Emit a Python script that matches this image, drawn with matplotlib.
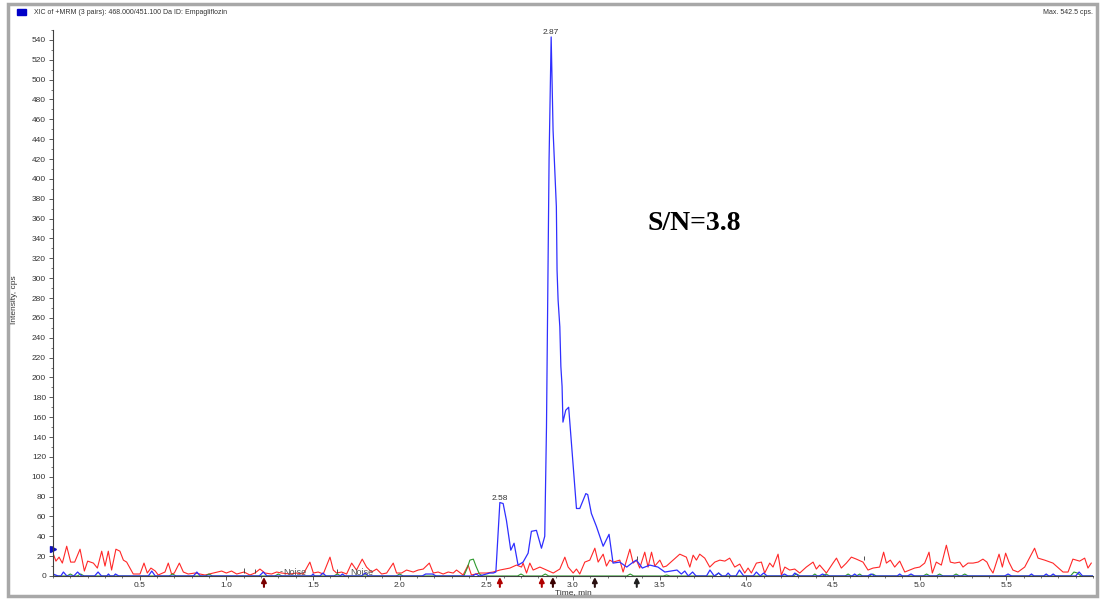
import matplotlib
matplotlib.use("Agg")
from matplotlib import pyplot as plt
from matplotlib.ticker import MultipleLocator
from matplotlib.patches import Rectangle

# red trace (time in min, intensity in cps)
red_time = [0.0, 0.017, 0.035, 0.054, 0.079, 0.102, 0.125, 0.156, 0.181, 0.2, 0.233, 0.256, 0.281, 0.3,
            0.319, 0.338, 0.363, 0.386, 0.406, 0.425, 0.463, 0.502, 0.525, 0.544, 0.565, 0.59, 0.607, 0.646,
            0.665, 0.684, 0.7, 0.729, 0.752, 0.78, 0.819, 0.848, 0.877, 0.925, 0.973, 1.0, 1.03, 1.06,
            1.102, 1.136, 1.165, 1.194, 1.223, 1.261, 1.29, 1.319, 1.367, 1.405, 1.444, 1.482, 1.502, 1.53,
            1.559, 1.598, 1.617, 1.636, 1.665, 1.694, 1.723, 1.751, 1.784, 1.809, 1.838, 1.867, 1.896, 1.925,
            1.963, 1.982, 2.011, 2.04, 2.078, 2.107, 2.136, 2.171, 2.194, 2.222, 2.251, 2.28, 2.309, 2.328,
            2.366, 2.395, 2.414, 2.463, 2.501, 2.539, 2.578, 2.636, 2.674, 2.703, 2.712, 2.732, 2.751, 2.77,
            2.809, 2.847, 2.886, 2.924, 2.953, 2.972, 3.001, 3.02, 3.039, 3.068, 3.097, 3.126, 3.145, 3.174,
            3.193, 3.212, 3.232, 3.27, 3.289, 3.328, 3.347, 3.366, 3.385, 3.414, 3.433, 3.453, 3.472, 3.501,
            3.52, 3.539, 3.616, 3.654, 3.674, 3.693, 3.712, 3.731, 3.76, 3.789, 3.818, 3.847, 3.876, 3.904,
            3.933, 3.962, 3.991, 4.01, 4.029, 4.058, 4.087, 4.106, 4.135, 4.154, 4.183, 4.202, 4.222, 4.25,
            4.279, 4.308, 4.346, 4.385, 4.404, 4.423, 4.462, 4.5, 4.52, 4.548, 4.577, 4.606, 4.635, 4.673,
            4.702, 4.731, 4.769, 4.792, 4.808, 4.831, 4.856, 4.885, 4.914, 4.942, 4.971, 5.0, 5.029, 5.054,
            5.073, 5.096, 5.125, 5.154, 5.177, 5.202, 5.231, 5.25, 5.279, 5.308, 5.337, 5.365, 5.388, 5.404,
            5.423, 5.458, 5.477, 5.496, 5.515, 5.538, 5.567, 5.606, 5.663, 5.683, 5.721, 5.769, 5.827, 5.856,
            5.884, 5.923, 5.952, 5.971, 5.99]
red_int = [23, 15, 19, 13, 30, 14, 14, 27, 5, 15, 13, 8, 25, 10,
           25, 6, 27, 25, 16, 14, 2, 2, 13, 3, 8, 5, 1, 4,
           13, 2, 3, 13, 4, 2, 3, 2, 1, 3, 5, 3, 5, 2,
           4, 1, 3, 7, 3, 2, 4, 3, 2, 3, 2, 14, 3, 4,
           2, 19, 6, 3, 4, 2, 13, 6, 17, 9, 4, 7, 2, 3,
           13, 3, 3, 6, 4, 6, 7, 13, 3, 4, 2, 4, 3, 6,
           1, 11, 1, 3, 3, 4, 6, 8, 11, 9, 13, 3, 13, 6,
           9, 6, 3, 7, 19, 9, 3, 7, 2, 14, 16, 28, 14, 22,
           10, 16, 14, 16, 4, 27, 13, 16, 8, 24, 9, 24, 10, 16,
           9, 10, 22, 19, 9, 21, 16, 22, 18, 9, 14, 16, 15, 18,
           9, 12, 3, 8, 3, 13, 14, 3, 13, 9, 22, 1, 9, 6,
           7, 3, 9, 14, 7, 11, 3, 13, 18, 8, 13, 19, 17, 14,
           6, 8, 9, 24, 13, 16, 9, 15, 4, 6, 8, 9, 13, 24,
           3, 14, 11, 31, 14, 13, 14, 9, 13, 13, 14, 17, 14, 8,
           3, 22, 9, 23, 14, 6, 4, 9, 28, 18, 16, 13, 4, 4,
           17, 15, 18, 8, 13]

# green trace
green_time = [0.0, 0.08, 0.1, 0.12, 0.14, 0.16, 0.18, 0.67, 0.69, 0.71, 0.88, 0.9, 0.92, 1.28, 1.3, 1.32,
              1.62, 1.64, 1.66, 1.98, 2.0, 2.02, 2.37, 2.39, 2.405, 2.425, 2.44, 2.46, 2.48, 2.68, 2.7,
              2.72, 2.82, 2.84, 2.86, 3.31, 3.33, 3.35, 3.52, 3.54, 3.56, 3.82, 3.84, 3.86, 4.27, 4.29,
              4.31, 4.38, 4.395, 4.41, 4.44, 4.46, 4.48, 4.57, 4.587, 4.605, 4.635, 4.654, 4.67, 4.71,
              4.73, 4.75, 5.02, 5.04, 5.06, 5.095, 5.115, 5.135, 5.19, 5.21, 5.23, 5.24, 5.26, 5.28,
              5.87, 5.89, 5.91, 5.93, 6.0]
green_int = [0, 0, 2, 0, 0, 2, 0, 0, 2, 0, 0, 2, 0, 0, 2, 0,
             0, 2, 0, 0, 2, 0, 0, 8, 16, 17, 10, 2, 0, 0, 2,
             0, 0, 2, 0, 0, 2, 0, 0, 1, 0, 0, 3, 0, 0, 2,
             0, 0, 2, 0, 0, 2, 0, 0, 2, 0, 0, 2, 0, 0,
             2, 0, 0, 2, 0, 0, 2, 0, 0, 2, 0, 0, 2, 0,
             0, 4, 3, 0, 0]

# blue trace (Empagliflozin)
blue_time = [0.0, 0.03, 0.045, 0.06, 0.08, 0.12, 0.142, 0.165, 0.24, 0.26, 0.28, 0.31, 0.32, 0.33, 0.35,
             0.36, 0.38, 0.55, 0.57, 0.59, 0.81, 0.83, 0.85, 1.19, 1.213, 1.235, 1.49, 1.5, 1.51, 1.54,
             1.557, 1.575, 1.655, 1.67, 1.685, 1.78, 1.8, 1.82, 2.13, 2.15, 2.19, 2.21, 2.42, 2.44, 2.46,
             2.5, 2.52, 2.54, 2.555, 2.578, 2.597, 2.616, 2.641, 2.66, 2.683, 2.712, 2.741, 2.76, 2.789,
             2.818, 2.837, 2.847, 2.855, 2.862, 2.874, 2.885, 2.895, 2.904, 2.908, 2.914, 2.924, 2.93,
             2.937, 2.942, 2.958, 2.975, 3.02, 3.039, 3.074, 3.085, 3.106, 3.135, 3.174, 3.208, 3.231,
             3.27, 3.31, 3.347, 3.366, 3.4, 3.443, 3.49, 3.53, 3.6, 3.625, 3.645, 3.665, 3.69, 3.71,
             3.77, 3.79, 3.815, 3.84, 3.86, 3.88, 3.895, 3.91, 3.94, 3.96, 3.985, 4.04, 4.058, 4.08,
             4.1, 4.12, 4.2, 4.22, 4.24, 4.265, 4.28, 4.3, 4.42, 4.44, 4.46, 4.61, 4.625, 4.64, 4.7,
             4.72, 4.74, 4.87, 4.885, 4.9, 4.93, 4.95, 4.97, 5.49, 5.51, 5.53, 5.63, 5.645, 5.66, 5.715,
             5.73, 5.745, 5.755, 5.77, 5.785, 5.9, 5.92, 5.94, 6.0]
blue_int = [2, 0, 0, 4, 0, 0, 4, 0, 0, 4, 0, 0, 2, 0, 0,
            2, 0, 0, 5, 0, 0, 4, 0, 0, 4, 0, 0, 2, 0, 0,
            3, 0, 0, 2, 0, 0, 3, 0, 0, 2, 2, 0, 0, 2, 0,
            2, 3, 3, 4, 74, 73, 56, 26, 33, 11, 14, 23, 45, 46,
            28, 40, 150, 290, 420, 543, 449, 409, 372, 308, 278, 251, 211,
            191, 155, 167, 170, 68, 68, 83, 82, 63, 50, 30, 42, 13,
            14, 9, 14, 16, 8, 11, 9, 4, 6, 2, 5, 0, 4, 0,
            0, 6, 0, 3, 0, 0, 3, 0, 0, 6, 0, 0, 4, 0,
            3, 0, 0, 2, 0, 0, 3, 0, 0, 2, 0, 0, 2, 0, 0,
            2, 0, 0, 2, 0, 0, 2, 0, 0, 2, 0, 0, 2, 0, 0,
            2, 0, 0, 2, 0, 0, 4, 0, 0]

# peak apex labels
peak_times = [2.874, 2.578]
peak_heights = [543, 74]
peak_labels = ["2.87", "2.58"]

# integration arrows below the time axis
arrow_times = [1.217, 2.578, 2.82, 2.884, 3.126, 3.368]
arrow_colors = ["#7a0000", "#b00000", "#b00000", "#3a0000", "#2a1010", "#202020"]

# noise region annotations
noise_times = [1.396, 1.784]
mark_times = [1.102, 1.165, 1.64, 3.372, 4.679]
mark_low = [3, 3, 3, 16, 16]
mark_high = [8, 7, 7, 20, 20]

W, H = 1103, 600
fig = plt.figure(figsize=(W / 100, H / 100), dpi=100)
plt.rcParams['font.family'] = ['Liberation Sans', 'DejaVu Sans']

# window frame
fig.patches.append(Rectangle((8 / W, 4 / H), 1089 / W, 592 / H, transform=fig.transFigure,
                             fill=False, edgecolor="#a8a8a8", lw=2.5))

ax = fig.add_axes([53 / W, 1 - 576 / H, 1040 / W, 546 / H])
ax.plot(red_time, red_int, color="#ff2828", lw=0.8)
ax.plot(green_time, green_int, color="#2f9a2f", lw=0.8)
ax.plot(blue_time, blue_int, color="#2f2fff", lw=0.9)
ax.plot([0], [27], marker=">", color="#1010c0", ms=4, clip_on=False)

ax.set_xlim(0, 6.0)
ax.set_ylim(0, 550)
ax.xaxis.set_minor_locator(MultipleLocator(0.1))
ax.yaxis.set_minor_locator(MultipleLocator(10))
ax.set_xticks([0.5, 1.0, 1.5, 2.0, 2.5, 3.0, 3.5, 4.0, 4.5, 5.0, 5.5])
ax.set_yticks(range(0, 541, 20))
ax.tick_params(which="major", length=3, width=0.6, labelsize=6, labelcolor="#333333", color="#404040", pad=2)
ax.tick_params(axis="x", which="major", pad=1)
ax.tick_params(which="minor", length=1.5, width=0.5, color="#404040")
for s in ["top", "right"]:
    ax.spines[s].set_visible(False)
for s in ["left", "bottom"]:
    ax.spines[s].set_color("#404040")
    ax.spines[s].set_linewidth(0.8)

fig.text(573 / W, 1 - 592.5 / H, "Time, min", fontsize=6, color="#333333", ha="center", va="center")
fig.text(14 / W, 1 - 300 / H, "Intensity, cps", rotation=90, fontsize=6, color="#333333",
         ha="center", va="center")

for t, h, lab in zip(peak_times, peak_heights, peak_labels):
    ax.annotate(lab, (t, h), xytext=(0, 0.5), textcoords="offset points", ha="center", va="bottom",
                fontsize=6, color="#333333", annotation_clip=False)

for t, c in zip(arrow_times, arrow_colors):
    ax.annotate("", xy=(t, -1), xytext=(t, -11), annotation_clip=False,
                arrowprops=dict(arrowstyle="-|>", color=c, lw=1.5, mutation_scale=7,
                                shrinkA=0, shrinkB=0))

for t in noise_times:
    ax.text(t, 4, "Noise", fontsize=6.5, color="#555555", ha="center", va="center")
ax.text(1.318, 4, "-", fontsize=6.5, color="#555555", ha="center", va="center")
ax.vlines(mark_times, mark_low, mark_high, color="#333333", lw=0.6)

ax.text(3.7, 355, "S/N=3.8", fontsize=20, fontweight="bold", family="Liberation Serif",
        ha="center", va="center", color="black")

# header
fig.patches.append(Rectangle((17 / W, 1 - 15 / H), 9 / W, 6 / H, transform=fig.transFigure,
                             color="#0000c8"))
fig.text(34 / W, 1 - 12 / H, "XIC of +MRM (3 pairs): 468.000/451.100 Da ID: Empagliflozin",
         fontsize=5, color="#333333", va="center")
fig.text(1093 / W, 1 - 13 / H, "Max. 542.5 cps.", fontsize=5, color="#333333", va="center", ha="right")

fig.savefig("out.png", dpi=100)
